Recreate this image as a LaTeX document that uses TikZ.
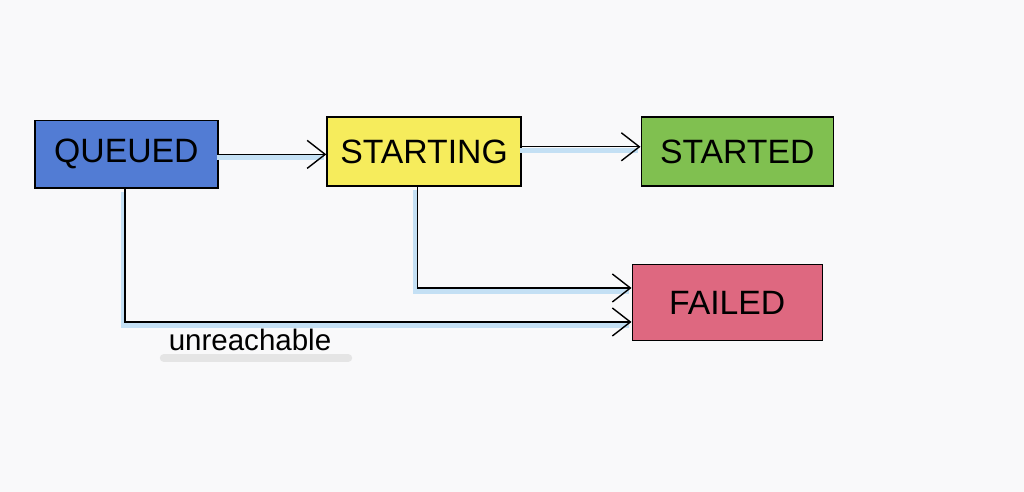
\documentclass[tikz,border=0pt]{standalone}
\usepackage{fontspec}
\setmainfont{Liberation Sans}
\usepackage{xcolor}
\usetikzlibrary{arrows.meta,calc,positioning}
\definecolor{queuedblue}{RGB}{82,124,212}
\definecolor{startyellow}{RGB}{246,236,92}
\definecolor{startgreen}{RGB}{128,192,80}
\definecolor{failedred}{RGB}{222,104,128}
\definecolor{paper}{RGB}{249,249,250}
\definecolor{lineshade}{RGB}{196,224,244}

\begin{document}
\begin{tikzpicture}
		\tikzstyle{every node}=[font=\fontsize{24}{28}\selectfont]
		\tikzstyle{state}=[draw=black, line width=1pt, minimum width=4.8cm, minimum height=1.72cm, inner sep=0pt]
		\tikzstyle{link}=[line width=1pt, -{Straight Barb[length=4.5mm,width=7mm]}, preaction={draw=lineshade, line width=3.5pt, -, transform canvas={xshift=-1.5pt,yshift=-2.5pt}}]
		\fill [paper] (0,0) rectangle (25.6,12.3);
		\useasboundingbox (0,0) rectangle (25.6,12.3);
		\node [state, fill=queuedblue, minimum width=4.58cm, minimum height=1.68cm] (queued) at (3.16,8.44) {QUEUED};
		\node [state, fill=startyellow, minimum width=4.85cm] (starting) at (10.6,8.51) {STARTING};
		\node [state, fill=startgreen] (started) at (18.43,8.51) {STARTED};
		\node [state, fill=failedred, minimum width=4.75cm, minimum height=1.9cm] (failed) at (18.18,4.73) {FAILED};
		\draw [link] (queued.east) -- (queued.east -| starting.west);
		\draw [link] ([yshift=0.12cm]starting.east) -- ([yshift=0.12cm]starting.east -| started.west);
		\draw [link] ([xshift=-0.17cm]starting.south) |- ([yshift=0.37cm]failed.west);
		\draw [link] ([xshift=-0.03cm]queued.south) |- ([yshift=-0.48cm]failed.west);
		\draw [line width=6pt, gray!20, line cap=round] (4.1,3.35) -- (8.7,3.35);
		\node [font=\fontsize{21}{24}\selectfont] (unreach) at (6.25,3.8) {unreachable};
	\end{tikzpicture}
\end{document}
